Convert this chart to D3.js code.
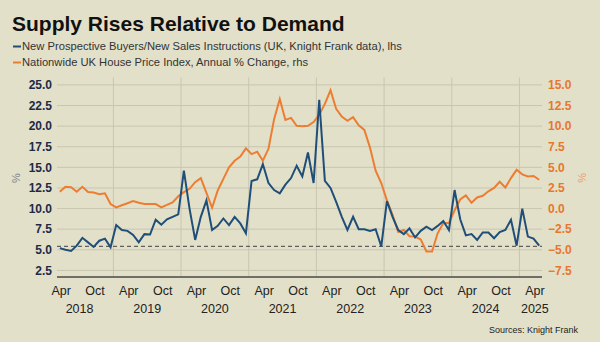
<!DOCTYPE html>
<html>
<head>
<meta charset="utf-8">
<script src="https://cdn.jsdelivr.net/npm/d3@7"></script>
<style>
body { margin: 0; background: #e2e0c9; }
svg { display: block; font-family: "Liberation Sans", Arial, sans-serif; }
.narrow { font-family: "Liberation Sans Narrow", "Arial Narrow", sans-serif; }
</style>
</head>
<body>
<svg id="chart" width="600" height="342"></svg>
<script>
// monthly categories, Mar 2018 .. Apr 2025
var months = d3.timeMonth.range(new Date(2018, 2, 1), new Date(2025, 4, 1));

// New prospective buyers / new sales instructions (lhs)
var buyersRatio = [
    5.2, 5.0, 4.85, 5.5, 6.45, 5.9, 5.35, 6.1, 6.35, 5.3,
    8.0, 7.4, 7.3, 6.8, 5.9, 6.9, 6.85, 8.65, 8.05, 8.7,
    9.0, 9.3, 14.6, 10.0, 6.2, 9.0, 11.0, 7.4, 7.9, 8.8,
    8.0, 9.0, 8.2, 7.0, 13.35, 13.55, 15.4, 13.1, 12.25, 11.85,
    12.9, 13.7, 15.2, 13.9, 16.8, 13.1, 23.2, 13.35, 12.5, 10.8,
    9.0, 7.4, 9.0, 7.5, 7.5, 7.3, 7.5, 5.4, 10.9, 9.0,
    7.4, 6.9, 7.6, 6.5, 7.3, 7.8, 7.4, 7.9, 8.5, 7.4,
    12.25, 8.7, 6.75, 6.9, 6.2, 7.1, 7.1, 6.4, 7.15, 7.4,
    8.65, 5.5, 10.0, 6.6, 6.35, 5.5
];

// Nationwide UK HPI, annual % change (rhs)
var hpiChange = [
    2.05, 2.65, 2.6, 2.05, 2.65, 2.0, 1.95, 1.75, 1.85, 0.55,
    0.15, 0.4, 0.65, 0.9, 0.7, 0.55, 0.55, 0.55, 0.15, 0.45,
    0.75, 1.5, 2.0, 2.4, 3.2, 3.7, 1.9, 0.1, 2.2, 3.6,
    5.0, 5.8, 6.3, 7.3, 6.6, 6.9, 5.8, 7.25, 10.85, 13.3,
    10.75, 11.0, 10.05, 10.0, 10.05, 10.5, 11.4, 12.7, 14.35, 12.1,
    11.15, 10.65, 11.1, 10.1, 9.55, 7.4, 4.6, 3.1, 1.0, -0.75,
    -2.85, -2.6, -3.35, -3.4, -3.75, -5.2, -5.2, -3.0, -1.75, -1.75,
    -0.2, 1.1, 1.6, 0.7, 1.35, 1.55, 2.1, 2.5, 3.25, 2.55,
    3.7, 4.7, 4.15, 3.9, 3.95, 3.5
];

var leftTicks = [2.5, 5, 7.5, 10, 12.5, 15, 17.5, 20, 22.5, 25];
var rightTicks = [-7.5, -5, -2.5, 0, 2.5, 5, 7.5, 10, 12.5, 15];
var monthNames = { 3: "Apr", 9: "Oct" };
var years = [2018, 2019, 2020, 2021, 2022, 2023, 2024, 2025];
var avgRatio = 5.42;

var blue = "#1f4e79", orange = "#ed7d31";

var svg = d3.select("#chart");
// note: "top" is taken by window.top, so use plot* names
var plotL = 57, plotR = 542, plotT = 77.5, plotB = 277;

svg.append("rect")
    .attr("width", 600).attr("height", 342)
    .attr("fill", "#e2e0c9");

var x = d3.scaleBand()
    .domain(months)
    .range([plotL, plotR]);

var yL = d3.scaleLinear().domain([1.7, 25.9]).range([plotB, plotT]);
var yR = d3.scaleLinear().domain([-8.3, 15.9]).range([plotB, plotT]);

var mid = (d) => x(d) + x.bandwidth() / 2;

// horizontal gridlines
svg.append("g").selectAll("line")
    .data(leftTicks)
    .enter().append("line")
        .attr("x1", plotL).attr("x2", plotR)
        .attr("y1", (d) => yL(d)).attr("y2", (d) => yL(d))
        .attr("stroke", "#c8c6b2").attr("stroke-width", 1);

// vertical gridlines at each January
svg.append("g").selectAll("line")
    .data(months.filter((d) => d.getMonth() == 0))
    .enter().append("line")
        .attr("x1", (d) => x(d)).attr("x2", (d) => x(d))
        .attr("y1", plotT).attr("y2", plotB)
        .attr("stroke", "#c8c6b2").attr("stroke-width", 1);

// average line
svg.append("line")
    .attr("x1", plotL).attr("x2", plotR)
    .attr("y1", yL(avgRatio)).attr("y2", yL(avgRatio))
    .attr("stroke", "#606060").attr("stroke-width", 1.2)
    .attr("stroke-dasharray", "4,3");

// baseline
svg.append("line")
    .attr("x1", plotL).attr("x2", plotR)
    .attr("y1", plotB).attr("y2", plotB)
    .attr("stroke", "#4a4a44").attr("stroke-width", 1.5);

// lines
var lineL = d3.line().x((d, i) => mid(months[i])).y((d) => yL(d));
var lineR = d3.line().x((d, i) => mid(months[i])).y((d) => yR(d));

svg.append("path").datum(hpiChange)
    .attr("d", lineR)
    .attr("fill", "none").attr("stroke", orange).attr("stroke-width", 2);

svg.append("path").datum(buyersRatio)
    .attr("d", lineL)
    .attr("fill", "none").attr("stroke", blue).attr("stroke-width", 2);

// y axes
var fmt = d3.format(".1f");
svg.append("g").selectAll("text")
    .data(leftTicks)
    .enter().append("text")
        .attr("x", plotL - 5).attr("y", (d) => yL(d))
        .attr("dy", "0.35em")
        .attr("text-anchor", "end")
        .attr("font-size", 12).attr("font-weight", "bold")
        .attr("fill", "#1c2b47")
        .text((d) => fmt(d));

svg.append("g").selectAll("text")
    .data(rightTicks)
    .enter().append("text")
        .attr("x", plotR + 6).attr("y", (d) => yR(d))
        .attr("dy", "0.35em")
        .attr("font-size", 12).attr("font-weight", "bold")
        .attr("fill", "#e8772e")
        .text((d) => fmt(d));

svg.append("text")
    .attr("transform", "translate(20,178) rotate(-90)")
    .attr("text-anchor", "middle")
    .attr("font-size", 11).attr("fill", "#7b8088")
    .text("%");

svg.append("text")
    .attr("transform", "translate(578,178) rotate(90)")
    .attr("text-anchor", "middle")
    .attr("font-size", 11).attr("fill", "#eb9c6b")
    .text("%");

// x axis labels
svg.append("g").selectAll("text")
    .data(months.filter((d) => monthNames[d.getMonth()]))
    .enter().append("text")
        .attr("class", "narrow")
        .attr("x", (d) => x(d) - 1.5).attr("y", 295)
        .attr("text-anchor", "middle")
        .attr("font-size", 12.5).attr("fill", "#222")
        .text((d) => monthNames[d.getMonth()]);

svg.append("g").selectAll("text")
    .data(years)
    .enter().append("text")
        .attr("class", "narrow")
        .attr("x", (d) => d == 2025 ? x(new Date(d, 3, 1)) - 1.5 : x(new Date(d, 6, 1)))
        .attr("y", 312.5)
        .attr("text-anchor", "middle")
        .attr("font-size", 12.5).attr("fill", "#222")
        .text((d) => d);

// title and legend
svg.append("text")
    .attr("x", 12).attr("y", 31)
    .attr("font-size", 21).attr("font-weight", "bold")
    .attr("fill", "#111")
    .text("Supply Rises Relative to Demand");

var legend = [
    { name: "New Prospective Buyers/New Sales Instructions (UK, Knight Frank data), lhs", colour: blue },
    { name: "Nationwide UK House Price Index, Annual % Change, rhs", colour: orange }
];

var lg = svg.append("g").selectAll("g")
    .data(legend)
    .enter().append("g")
        .attr("transform", (d, i) => "translate(13," + (46.5 + i * 16) + ")");

lg.append("line")
    .attr("x1", 0).attr("x2", 8)
    .attr("stroke", (d) => d.colour).attr("stroke-width", 2);

lg.append("text")
    .attr("class", "narrow")
    .attr("x", 9).attr("dy", "0.35em")
    .attr("font-size", 11.2).attr("fill", "#333")
    .text((d) => d.name);

svg.append("text")
    .attr("class", "narrow")
    .attr("x", 578).attr("y", 333)
    .attr("text-anchor", "end")
    .attr("font-size", 9).attr("fill", "#222")
    .text("Sources: Knight Frank");
</script>
</body>
</html>
